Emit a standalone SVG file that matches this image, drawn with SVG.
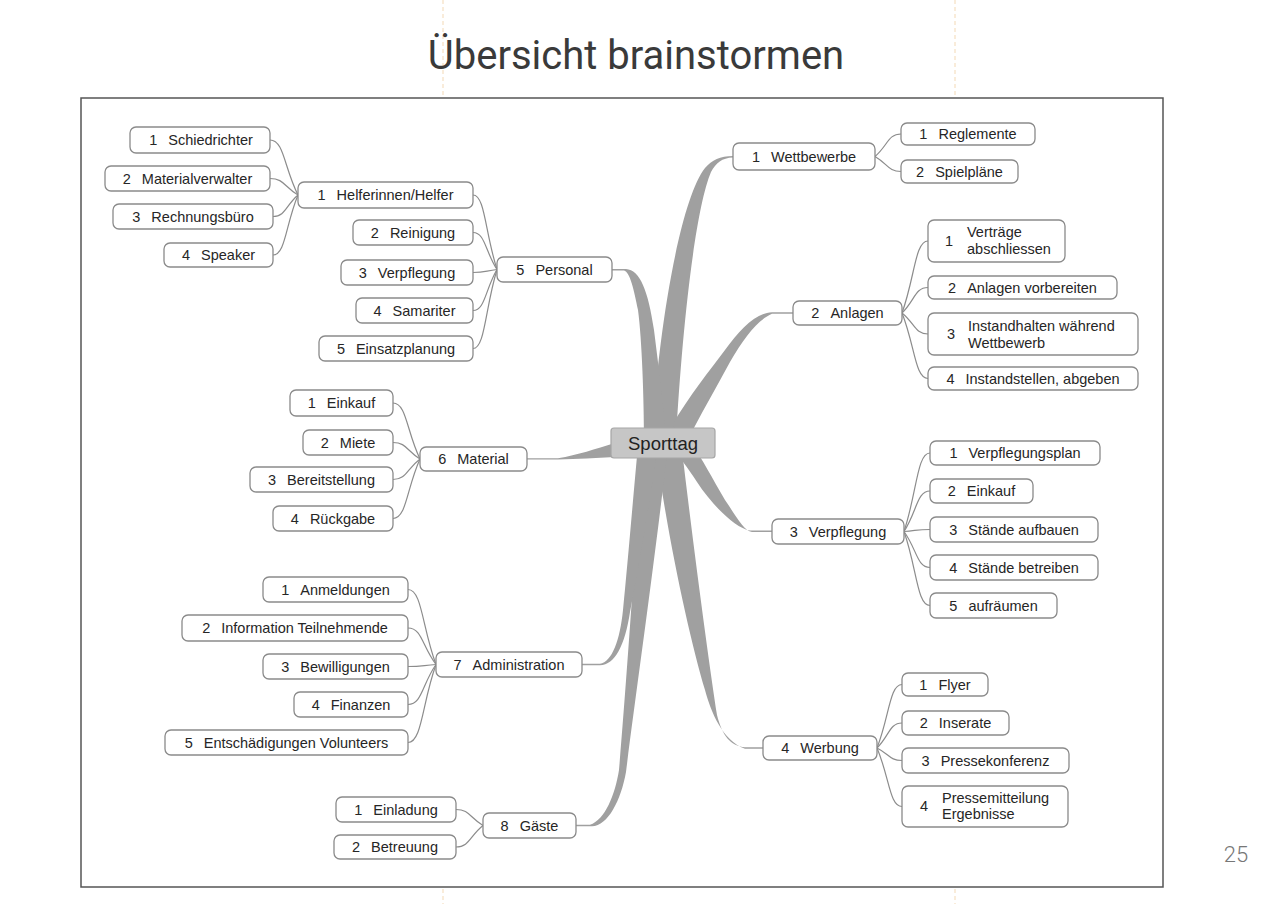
<svg xmlns="http://www.w3.org/2000/svg" width="1265" height="904" viewBox="0 0 1265 904">
<style>
.nd rect{fill:#fff;stroke:#8a8a8a;stroke-width:1.3}
.nd text{font-family:"Liberation Sans",Arial,sans-serif;font-size:14.5px;fill:#262626}
.c text{text-anchor:middle;dominant-baseline:central}
.br{fill:#a0a0a0}
.cn path{fill:none;stroke:#8c8c8c;stroke-width:1.2}
.guide{stroke:#f3d9b5;stroke-width:1;stroke-dasharray:4 3}
</style>
<rect width="1265" height="904" fill="#fff"/>
<line class="guide" x1="443" y1="0" x2="443" y2="97"/>
<line class="guide" x1="955" y1="0" x2="955" y2="97"/>
<line class="guide" x1="443" y1="889" x2="443" y2="904"/>
<line class="guide" x1="955" y1="889" x2="955" y2="904"/>
<text x="636" y="69" text-anchor="middle" font-family="Roboto,'Liberation Sans',sans-serif" font-size="40" fill="#3a3a3a">Übersicht brainstormen</text>
<text x="1236" y="862" text-anchor="middle" font-family="Roboto,'Liberation Sans',sans-serif" font-weight="300" font-size="22" fill="#777">25</text>
<rect x="81" y="98" width="1082" height="789" fill="#fff" stroke="#555" stroke-width="1.5"/>

<g id="connectors">
  <g id="branches">
    <path class="br" d="M652 440 C658 330 680 200 705 168 C712 160 720 156 733 156 L733 157.6 C722 158 716 163 711 172 C695 210 682 330 676 440 Z"/>
    <path class="br" d="M612 269 L626 269 C640 270 648 290 654 330 C659 370 664 410 666 440 L644 440 C644 400 642 340 638 310 C634 290 630 272 624 270.6 L612 270.6 Z"/>
    <path class="br" d="M793 312.3 L772 312.3 C755 313 740 330 725 350 C710 370 690 395 672 425 L688 440 C700 415 715 390 730 362 C745 336 758 320 772 313.8 L793 313.8 Z"/>
    <path class="br" d="M772 530.6 L750 530.6 C735 528 712 505 697 482 C688 468 678 455 670 445 L692 445 C702 458 712 478 725 500 C736 516 744 531 752 532.1 L772 532.1 Z"/>
    <path class="br" d="M656 450 C668 540 690 640 705 690 C711 712 722 740 745 748.8 L763 748.8 L763 747.3 L745 747.3 C730 746 722 735 717 715 C710 670 695 560 682 450 Z"/>
    <path class="br" d="M576 824.8 L590 824.8 C605 820 615 795 619 770 C625 700 635 560 642 445 L668 445 C655 560 635 700 626 772 C621 800 608 826 592 826.3 L576 826.3 Z"/>
    <path class="br" d="M582 663.8 L600 663.8 C612 662 620 640 623 610 C627 570 633 500 638 445 L658 445 C650 500 638 570 630 612 C625 645 615 665 600 665.3 L582 665.3 Z"/>
    <path class="br" d="M527 458.3 L558 458.3 C578 455 595 449 615 443 L615 457 C595 458 578 459 558 459.6 L527 459.6 Z"/>
  </g>
  <g class="cn" id="sub-connectors">
    <path d="M270 140 C284 140 284 167.5 298 195"/>
    <path d="M270 178.5 C284 178.5 284 186.75 298 195"/>
    <path d="M273 216.5 C285.5 216.5 285.5 205.75 298 195"/>
    <path d="M273 255 C285.5 255 285.5 225 298 195"/>
    <path d="M473 195 C485 195 485 232.25 497 269.5"/>
    <path d="M473 232.5 C485 232.5 485 251 497 269.5"/>
    <path d="M473 272.5 C485 272.5 485 271 497 269.5"/>
    <path d="M473 310.5 C485 310.5 485 290 497 269.5"/>
    <path d="M473 348.5 C485 348.5 485 309 497 269.5"/>
    <path d="M393 403 C406.5 403 406.5 431 420 459"/>
    <path d="M393 442.5 C406.5 442.5 406.5 450.75 420 459"/>
    <path d="M393 479.5 C406.5 479.5 406.5 469.25 420 459"/>
    <path d="M393 518.5 C406.5 518.5 406.5 488.75 420 459"/>
    <path d="M408 589.5 C422 589.5 422 627 436 664.5"/>
    <path d="M408 628 C422 628 422 646.25 436 664.5"/>
    <path d="M408 666.5 C422 666.5 422 665.5 436 664.5"/>
    <path d="M408 704.5 C422 704.5 422 684.5 436 664.5"/>
    <path d="M408 742.5 C422 742.5 422 703.5 436 664.5"/>
    <path d="M456 809.5 C469.5 809.5 469.5 817.5 483 825.5"/>
    <path d="M456 847 C469.5 847 469.5 836.25 483 825.5"/>
    <path d="M901 134 C888 134 888 145.25 875 156.5"/>
    <path d="M901 171.5 C888 171.5 888 164 875 156.5"/>
    <path d="M928 241 C915 241 915 277 902 313"/>
    <path d="M928 287.5 C915 287.5 915 300.25 902 313"/>
    <path d="M928 334 C915 334 915 323.5 902 313"/>
    <path d="M928 378.5 C915 378.5 915 345.75 902 313"/>
    <path d="M930 453 C917 453 917 492.25 904 531.5"/>
    <path d="M930 491 C917 491 917 511.25 904 531.5"/>
    <path d="M930 529.5 C917 529.5 917 530.5 904 531.5"/>
    <path d="M930 567.5 C917 567.5 917 549.5 904 531.5"/>
    <path d="M930 605.5 C917 605.5 917 568.5 904 531.5"/>
    <path d="M902 684.5 C889.5 684.5 889.5 716.25 877 748"/>
    <path d="M902 723 C889.5 723 889.5 735.5 877 748"/>
    <path d="M902 760.5 C889.5 760.5 889.5 754.25 877 748"/>
    <path d="M902 806.5 C889.5 806.5 889.5 777.25 877 748"/>
  </g>
</g>

<g id="n1" class="nd c"><rect x="733" y="143" width="142" height="27" rx="6"/><text x="804" y="156.5"><tspan>1</tspan><tspan dx="11">Wettbewerbe</tspan></text></g>
<g id="n2" class="nd c"><rect x="793" y="301" width="109" height="24" rx="6"/><text x="847.5" y="313"><tspan>2</tspan><tspan dx="11">Anlagen</tspan></text></g>
<g id="n3" class="nd c"><rect x="772" y="519" width="132" height="25" rx="6"/><text x="838" y="531.5"><tspan>3</tspan><tspan dx="11">Verpflegung</tspan></text></g>
<g id="n4" class="nd c"><rect x="763" y="736" width="114" height="24" rx="6"/><text x="820" y="748"><tspan>4</tspan><tspan dx="11">Werbung</tspan></text></g>
<g id="n5" class="nd c"><rect x="497" y="257" width="115" height="25" rx="6"/><text x="554.5" y="269.5"><tspan>5</tspan><tspan dx="11">Personal</tspan></text></g>
<g id="n6" class="nd c"><rect x="420" y="447" width="107" height="24" rx="6"/><text x="473.5" y="459"><tspan>6</tspan><tspan dx="11">Material</tspan></text></g>
<g id="n7" class="nd c"><rect x="436" y="652" width="146" height="25" rx="6"/><text x="509" y="664.5"><tspan>7</tspan><tspan dx="11">Administration</tspan></text></g>
<g id="n8" class="nd c"><rect x="483" y="813" width="93" height="25" rx="6"/><text x="529.5" y="825.5"><tspan>8</tspan><tspan dx="11">Gäste</tspan></text></g>

<g id="p1" class="nd c"><rect x="298" y="182" width="175" height="26" rx="6"/><text x="385.5" y="195"><tspan>1</tspan><tspan dx="11">Helferinnen/Helfer</tspan></text></g>
<g id="p2" class="nd c"><rect x="353" y="220" width="120" height="25" rx="6"/><text x="413" y="232.5"><tspan>2</tspan><tspan dx="11">Reinigung</tspan></text></g>
<g id="p3" class="nd c"><rect x="341" y="260" width="132" height="25" rx="6"/><text x="407" y="272.5"><tspan>3</tspan><tspan dx="11">Verpflegung</tspan></text></g>
<g id="p4" class="nd c"><rect x="356" y="298" width="117" height="25" rx="6"/><text x="414.5" y="310.5"><tspan>4</tspan><tspan dx="11">Samariter</tspan></text></g>
<g id="p5" class="nd c"><rect x="319" y="336" width="154" height="25" rx="6"/><text x="396" y="348.5"><tspan>5</tspan><tspan dx="11">Einsatzplanung</tspan></text></g>

<g id="h1" class="nd c"><rect x="130" y="127" width="140" height="26" rx="6"/><text x="201" y="140"><tspan>1</tspan><tspan dx="11">Schiedrichter</tspan></text></g>
<g id="h2" class="nd c"><rect x="105" y="166" width="165" height="25" rx="6"/><text x="187.5" y="178.5"><tspan>2</tspan><tspan dx="11">Materialverwalter</tspan></text></g>
<g id="h3" class="nd c"><rect x="113" y="204" width="160" height="25" rx="6"/><text x="193" y="216.5"><tspan>3</tspan><tspan dx="11">Rechnungsbüro</tspan></text></g>
<g id="h4" class="nd c"><rect x="164" y="243" width="109" height="24" rx="6"/><text x="218.5" y="255"><tspan>4</tspan><tspan dx="11">Speaker</tspan></text></g>

<g id="w1" class="nd c"><rect x="901" y="123" width="134" height="22" rx="6"/><text x="968" y="134"><tspan>1</tspan><tspan dx="11">Reglemente</tspan></text></g>
<g id="w2" class="nd c"><rect x="901" y="160" width="117" height="23" rx="6"/><text x="959.5" y="171.5"><tspan>2</tspan><tspan dx="11">Spielpläne</tspan></text></g>

<g id="a1" class="nd"><rect x="928" y="220" width="137" height="42" rx="6"/><text x="945" y="246">1</text><text x="967" y="237">Verträge</text><text x="967" y="254">abschliessen</text></g>
<g id="a2" class="nd c"><rect x="928" y="276" width="189" height="23" rx="6"/><text x="1022.5" y="287.5"><tspan>2</tspan><tspan dx="11">Anlagen vorbereiten</tspan></text></g>
<g id="a3" class="nd"><rect x="928" y="313" width="210" height="42" rx="6"/><text x="947" y="339">3</text><text x="968" y="331">Instandhalten während</text><text x="968" y="348">Wettbewerb</text></g>
<g id="a4" class="nd c"><rect x="928" y="367" width="210" height="23" rx="6"/><text x="1033" y="378.5"><tspan>4</tspan><tspan dx="11">Instandstellen, abgeben</tspan></text></g>

<g id="v1" class="nd c"><rect x="930" y="441" width="170" height="24" rx="6"/><text x="1015" y="453"><tspan>1</tspan><tspan dx="11">Verpflegungsplan</tspan></text></g>
<g id="v2" class="nd c"><rect x="930" y="479" width="103" height="24" rx="6"/><text x="981.5" y="491"><tspan>2</tspan><tspan dx="11">Einkauf</tspan></text></g>
<g id="v3" class="nd c"><rect x="930" y="517" width="168" height="25" rx="6"/><text x="1014" y="529.5"><tspan>3</tspan><tspan dx="11">Stände aufbauen</tspan></text></g>
<g id="v4" class="nd c"><rect x="930" y="555" width="168" height="25" rx="6"/><text x="1014" y="567.5"><tspan>4</tspan><tspan dx="11">Stände betreiben</tspan></text></g>
<g id="v5" class="nd c"><rect x="930" y="593" width="127" height="25" rx="6"/><text x="993.5" y="605.5"><tspan>5</tspan><tspan dx="11">aufräumen</tspan></text></g>

<g id="b1" class="nd c"><rect x="902" y="673" width="86" height="23" rx="6"/><text x="945" y="684.5"><tspan>1</tspan><tspan dx="11">Flyer</tspan></text></g>
<g id="b2" class="nd c"><rect x="902" y="711" width="107" height="24" rx="6"/><text x="955.5" y="723"><tspan>2</tspan><tspan dx="11">Inserate</tspan></text></g>
<g id="b3" class="nd c"><rect x="902" y="748" width="167" height="25" rx="6"/><text x="985.5" y="760.5"><tspan>3</tspan><tspan dx="11">Pressekonferenz</tspan></text></g>
<g id="b4" class="nd"><rect x="902" y="786" width="166" height="41" rx="6"/><text x="920" y="811">4</text><text x="942" y="803">Pressemitteilung</text><text x="942" y="819">Ergebnisse</text></g>

<g id="m1" class="nd c"><rect x="290" y="390" width="103" height="26" rx="6"/><text x="341.5" y="403"><tspan>1</tspan><tspan dx="11">Einkauf</tspan></text></g>
<g id="m2" class="nd c"><rect x="303" y="430" width="90" height="25" rx="6"/><text x="348" y="442.5"><tspan>2</tspan><tspan dx="11">Miete</tspan></text></g>
<g id="m3" class="nd c"><rect x="250" y="467" width="143" height="25" rx="6"/><text x="321.5" y="479.5"><tspan>3</tspan><tspan dx="11">Bereitstellung</tspan></text></g>
<g id="m4" class="nd c"><rect x="273" y="506" width="120" height="25" rx="6"/><text x="333" y="518.5"><tspan>4</tspan><tspan dx="11">Rückgabe</tspan></text></g>

<g id="d1" class="nd c"><rect x="263" y="577" width="145" height="25" rx="6"/><text x="335.5" y="589.5"><tspan>1</tspan><tspan dx="11">Anmeldungen</tspan></text></g>
<g id="d2" class="nd c"><rect x="182" y="615" width="226" height="26" rx="6"/><text x="295" y="628"><tspan>2</tspan><tspan dx="11">Information Teilnehmende</tspan></text></g>
<g id="d3" class="nd c"><rect x="263" y="654" width="145" height="25" rx="6"/><text x="335.5" y="666.5"><tspan>3</tspan><tspan dx="11">Bewilligungen</tspan></text></g>
<g id="d4" class="nd c"><rect x="294" y="692" width="114" height="25" rx="6"/><text x="351" y="704.5"><tspan>4</tspan><tspan dx="11">Finanzen</tspan></text></g>
<g id="d5" class="nd c"><rect x="165" y="730" width="243" height="25" rx="6"/><text x="286.5" y="742.5"><tspan>5</tspan><tspan dx="11">Entschädigungen Volunteers</tspan></text></g>

<g id="g1" class="nd c"><rect x="336" y="797" width="120" height="25" rx="6"/><text x="396" y="809.5"><tspan>1</tspan><tspan dx="11">Einladung</tspan></text></g>
<g id="g2" class="nd c"><rect x="334" y="835" width="122" height="24" rx="6"/><text x="395" y="847"><tspan>2</tspan><tspan dx="11">Betreuung</tspan></text></g>

<g id="center"><rect x="611" y="428" width="104" height="30" rx="3" fill="#c6c6c6" stroke="#a6a6a6" stroke-width="1.2"/><text x="663" y="443.5" text-anchor="middle" dominant-baseline="central" font-family="'Liberation Sans',Arial,sans-serif" font-size="18.5" fill="#222">Sporttag</text></g>
</svg>
